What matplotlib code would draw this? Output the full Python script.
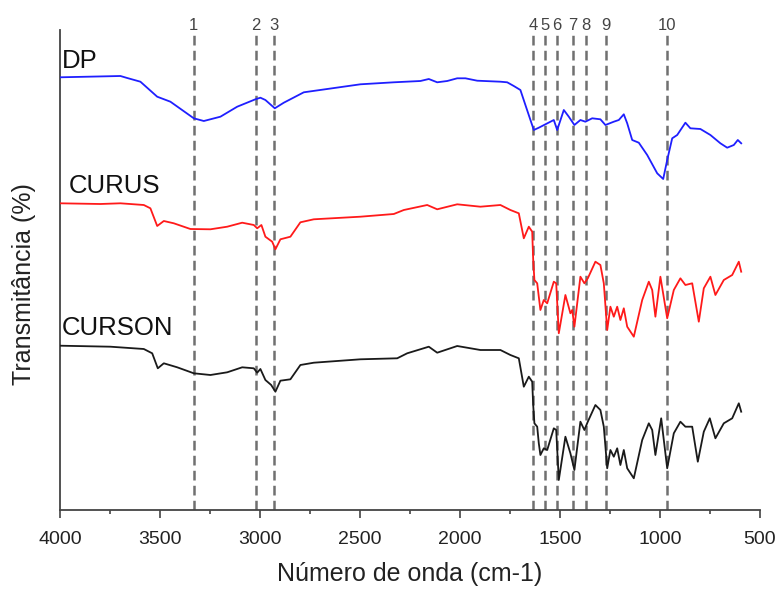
import matplotlib
matplotlib.use("Agg")
import matplotlib.pyplot as plt
from matplotlib.ticker import MultipleLocator

plt.rcParams['font.family'] = ['Liberation Sans', 'DejaVu Sans']
plt.rcParams['lines.scale_dashes'] = False

# ---- data (wavenumber cm-1, transmittance in arbitrary stacked units) ----
dp_x = [4000, 3698, 3664, 3598, 3514, 3448, 3331, 3281, 3198, 3114, 3023, 2998, 2973,
        2926, 2881, 2781, 2664, 2498, 2331, 2198, 2156, 2114, 2064, 2014, 1973, 1914,
        1798, 1764, 1731, 1698, 1673, 1631, 1606, 1531, 1514, 1481, 1456, 1428, 1398,
        1373, 1339, 1298, 1273, 1231, 1206, 1181, 1164, 1139, 1106, 1064, 1014, 984,
        964, 939, 914, 873, 848, 798, 748, 698, 664, 631, 611, 594]
dp_y = [432.7, 434, 432, 428.3, 413.3, 408.3, 391.7, 389, 393.3, 403.3, 410.7, 412.3, 410,
        401.7, 407.3, 417.7, 421, 425.7, 427.7, 429, 431, 427.7, 429, 431.7, 431.7, 429.3,
        428.3, 427.7, 424, 420, 405, 380, 382.3, 390, 380, 400, 393.3, 385, 390,
        388.3, 391.7, 390.7, 385, 388.3, 390, 395.7, 386.7, 370, 367.3, 355, 336.7, 331,
        350, 371.7, 375, 387.3, 381.7, 381, 375, 366.7, 362.3, 365, 370, 366.7]

curus_x = [4000, 3798, 3698, 3581, 3548, 3514, 3481, 3431, 3348, 3248, 3164, 3089, 3031,
           3014, 2993, 2973, 2939, 2923, 2898, 2848, 2798, 2731, 2498, 2331, 2281, 2164,
           2114, 2014, 1898, 1798, 1748, 1706, 1681, 1656, 1639,
           1634, 1628, 1614, 1606, 1598, 1581, 1564, 1531, 1519, 1506, 1473, 1448, 1439,
           1428, 1398, 1378, 1361, 1323, 1298, 1281, 1264, 1248, 1231, 1214, 1198, 1181,
           1164, 1131, 1089, 1056, 1039, 1023, 998, 964, 931, 898, 873, 839, 806, 781,
           748, 723, 681, 639, 606, 594]
curus_y = [306.7, 306, 306.7, 305, 301.7, 284, 289, 286.7, 281, 280.7, 283.3, 287.3, 285,
           281.7, 285, 273.3, 268.3, 260.7, 270.7, 273.3, 287.7, 290.7, 293.3, 296, 300, 305,
           300.7, 305.7, 303.3, 305, 300, 296.7, 271.7, 283.3, 278.3,
           250, 230, 226.7, 213.3, 200, 210, 206.7, 228.3, 226.7, 176.7, 215, 196.7, 200,
           183.3, 233.3, 226.7, 231.7, 248.3, 245, 226.7, 180, 203.3, 193.3, 203.3, 190, 201.7,
           183.3, 173.3, 210, 228.3, 220, 193.3, 233.3, 191.7, 220, 231.7, 225, 226.7, 188.3, 221.7,
           233.3, 215, 230, 235, 248.3, 238.3]

curson_x = [4000, 3748, 3581, 3539, 3511, 3481, 3414, 3331, 3248, 3164, 3089, 3031, 3014,
            2998, 2973, 2944, 2923, 2898, 2848, 2798, 2731, 2498, 2314, 2264, 2156, 2114,
            2014, 1898, 1798, 1748, 1706, 1681, 1656, 1639,
            1634, 1628, 1614, 1606, 1598, 1581, 1564, 1531, 1519, 1506, 1473, 1448, 1428,
            1398, 1378, 1361, 1323, 1298, 1281, 1264, 1248, 1231, 1214, 1198, 1181, 1164,
            1131, 1089, 1056, 1039, 1023, 994, 964, 931, 898, 873, 839, 811, 781, 751,
            723, 681, 639, 606, 594]
curson_y = [164.3, 163.3, 161, 156.7, 141.7, 146.7, 142.7, 136.7, 135, 137.7, 142.7, 141.7, 137.3,
            141, 130, 125, 118.3, 129.3, 130.7, 145, 147.3, 150.7, 151.7, 156.7, 163.3, 157.3,
            164, 160, 160, 155, 151.7, 123.3, 133.3, 128.3,
            105, 86.7, 83.3, 66.7, 55, 61.7, 60, 81.7, 80, 30, 73.3, 56.7, 40,
            88.3, 80, 88.3, 105, 100, 83.3, 41.7, 60, 53.3, 61.7, 45, 60, 41.7,
            31.7, 70, 86.7, 80, 55, 91.7, 41.7, 76.7, 88.3, 83.3, 83.3, 48.3, 78.3, 91.7,
            71.7, 86.7, 91.7, 106.7, 98.3]

series_names = ["DP", "CURUS", "CURSON"]
peak_positions = [3331, 3019, 2931, 1634, 1576, 1517, 1434, 1369, 1269, 964]
peak_labels = ["1", "2", "3", "4", "5", "6", "7", "8", "9", "10"]
x_ticks = [4000, 3500, 3000, 2500, 2000, 1500, 1000, 500]

# ---- figure ----
fig = plt.figure(figsize=(7.84, 5.90), dpi=100)
ax = fig.add_axes([60/784, 80/590, 700/784, 480/590])

ax.plot(dp_x, dp_y, color='#1f1fff', lw=1.3, zorder=3)
ax.plot(curus_x, curus_y, color='#ff1a1a', lw=1.3, zorder=3)
ax.plot(curson_x, curson_y, color='#1a1a1a', lw=1.3, zorder=3)

for xp, lab in zip(peak_positions, peak_labels):
    ax.plot([xp, xp], [0, 475], color='#707070', lw=1.8, linestyle=(0, (7.0, 3.8)), zorder=2)
    ax.text(xp, 484, lab, ha='center', va='center', fontsize=12, color='#444444',
            clip_on=False)

label_pos = [(3990, 442), (3955, 317), (3990, 175)]
for (lx, ly), name in zip(label_pos, series_names):
    ax.text(lx, ly, name, fontsize=18.5, color='#111111', ha='left', va='baseline')

ax.set_xlim(4000, 500)
ax.set_ylim(0, 480)
ax.set_xticks(x_ticks)
ax.xaxis.set_minor_locator(MultipleLocator(250))
ax.set_yticks([])
for s in ['top', 'right']:
    ax.spines[s].set_visible(False)
for s in ['left', 'bottom']:
    ax.spines[s].set_color('#444444')
    ax.spines[s].set_linewidth(1.3)
ax.tick_params(axis='x', which='major', direction='out', length=6, width=1.2,
               color='#444444', labelsize=14, labelcolor='#222222', pad=9)
ax.tick_params(axis='x', which='minor', direction='out', length=3, width=1.2,
               color='#444444')

ax.set_xlabel("Número de onda (cm-1)", fontsize=18, color='#222222', labelpad=10)
ax.set_ylabel("Transmitância (%)", fontsize=18, color='#222222')
ax.yaxis.set_label_coords(-0.034, 0.47)

fig.savefig("out.png", dpi=100)
